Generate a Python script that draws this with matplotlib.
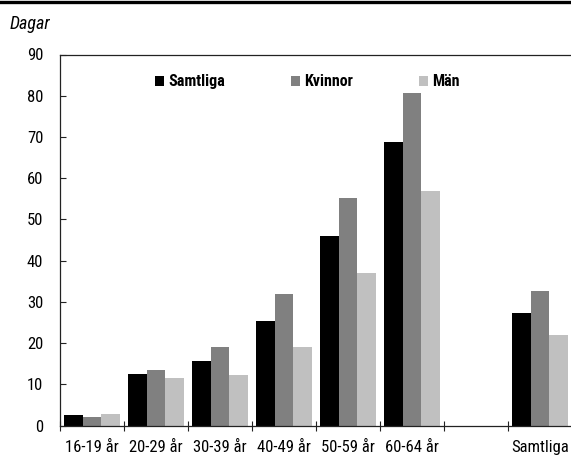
import numpy as np
import matplotlib
matplotlib.use("Agg")
import matplotlib.pyplot as plt
from matplotlib.lines import Line2D

plt.rcParams['font.family'] = ['Roboto Condensed', 'DejaVu Sans']

groups = ["16-19 år", "20-29 år", "30-39 år", "40-49 år", "50-59 år", "60-64 år", "", "Samtliga"]
samtliga = [2.5, 12.5, 15.6, 25.3, 46.1, 68.8, np.nan, 27.4]
kvinnor = [2.0, 13.4, 19.2, 31.9, 55.1, 80.7, np.nan, 32.7]
man = [2.8, 11.6, 12.2, 19.0, 37.0, 56.8, np.nan, 21.9]

series = [("Samtliga", samtliga, "#000000"),
          ("Kvinnor", kvinnor, "#808080"),
          ("Män", man, "#c0c0c0")]

fig = plt.figure(figsize=(5.71, 4.57), dpi=100)
ax = fig.add_axes([60 / 571, 31.3 / 457, 512 / 571, 371.2 / 457])

x = np.arange(len(groups))
w = 0.29
for i, (name, vals, col) in enumerate(series):
    ax.bar(x + (i - 1) * w, vals, w, color=col, label=name, linewidth=0)

ax.set_xlim(-0.5, len(groups) - 0.5)
ax.set_ylim(0, 90)
ax.set_yticks(range(0, 91, 10))

# category boundaries get the tick marks, labels sit in the middle
ax.set_xticks(np.arange(-0.5, len(groups), 1.0))
ax.set_xticklabels([])
ax.set_xticks(x, minor=True)
ax.set_xticklabels(groups, minor=True)
ax.tick_params(axis="x", which="major", direction="inout", length=7, width=0.8, color="#222222")
ax.tick_params(axis="x", which="minor", length=0, pad=10, labelsize=12)
ax.tick_params(axis="y", direction="in", length=4.5, width=0.8, color="#222222", pad=12, labelsize=12)

for s in ["left", "bottom", "top"]:
    ax.spines[s].set_color("#222222")
    ax.spines[s].set_linewidth(0.9)
ax.spines["right"].set_visible(False)

ax.legend(loc="upper center", bbox_to_anchor=(0.483, 0.985), ncol=3, frameon=False,
          handlelength=0.6, handleheight=0.6, handletextpad=0.25, columnspacing=4.1,
          prop={"weight": "bold", "size": 11.5})

fig.text(10 / 571, 1 - 24 / 457, "Dagar", style="italic", fontsize=13, va="center", ha="left")
fig.add_artist(Line2D([0, 1], [1 - 1.5 / 457, 1 - 1.5 / 457], transform=fig.transFigure,
                      color="black", linewidth=2.4))

fig.savefig("out.png", dpi=100)
